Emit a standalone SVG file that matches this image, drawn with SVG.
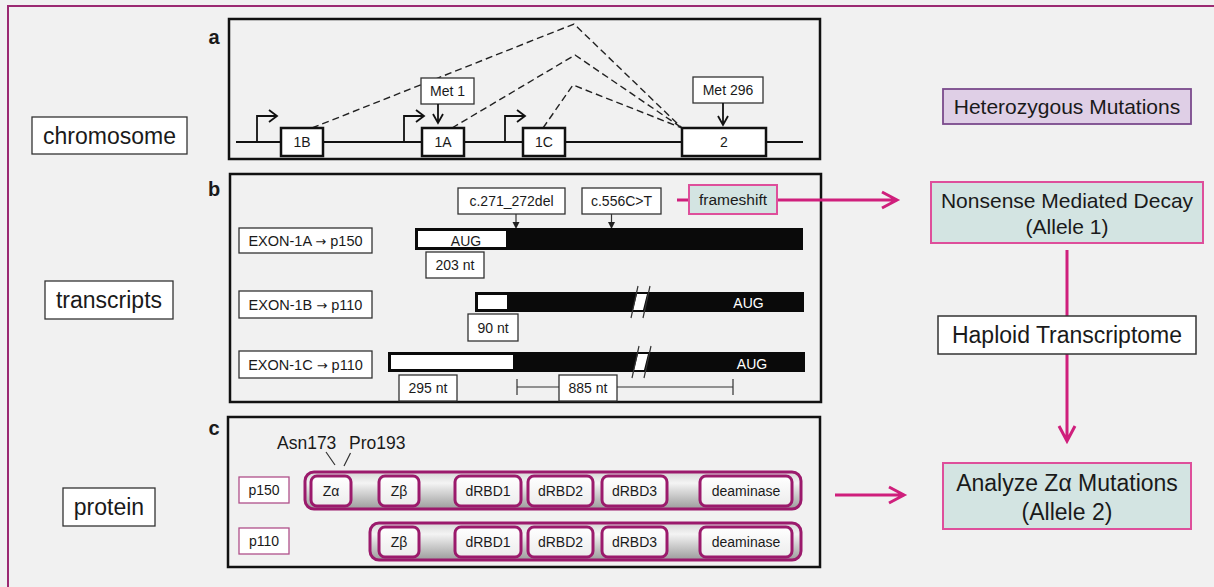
<svg xmlns="http://www.w3.org/2000/svg" width="1214" height="587" viewBox="0 0 1214 587">
<defs>
<style>
text{font-family:"Liberation Sans",Arial,sans-serif;fill:#1a1a1a}
.lbl{font-size:23px;text-anchor:middle}
.pl{font-size:20px;font-weight:bold;text-anchor:middle}
.panel{fill:none;stroke:#111;stroke-width:2.5}
.wbox{fill:#fff;stroke:#333;stroke-width:1.3}
.exon{fill:#fff;stroke:#111;stroke-width:2.5}
.t14{font-size:14px;text-anchor:middle}
.t15{font-size:14.5px;text-anchor:middle}
.arr{font-family:"DejaVu Sans",sans-serif;font-size:13px}
.dash{fill:none;stroke:#222;stroke-width:1.4;stroke-dasharray:7 4}
.blk{fill:none;stroke:#111;stroke-width:1.8}
.thin{fill:none;stroke:#333;stroke-width:1.2}
.pink{fill:none;stroke:#cf1f7c;stroke-width:3}
.bar{fill:url(#g);stroke:#9b1a6c;stroke-width:3}
.dom{fill:url(#gd);stroke:#9b1a6c;stroke-width:3}
.plab{fill:#fff;stroke:#b0508a;stroke-width:1.3}
.teal{fill:#d3e4e2;stroke:#de4f9b;stroke-width:2}
.aug{font-size:14px;text-anchor:middle;fill:#fff}
</style>
<linearGradient id="g" x1="0" y1="0" x2="0" y2="1">
<stop offset="0" stop-color="#d6d6d6"/>
<stop offset="0.3" stop-color="#f4f4f4"/>
<stop offset="1" stop-color="#9c9c9c"/>
</linearGradient>
<linearGradient id="gd" x1="0" y1="0" x2="0" y2="1">
<stop offset="0" stop-color="#ffffff"/>
<stop offset="1" stop-color="#ececec"/>
</linearGradient>
</defs>
<rect x="0" y="0" width="1214" height="587" fill="#f1f1f1"/>
<rect x="8" y="6" width="1230" height="600" fill="none" stroke="#9b2a72" stroke-width="2"/>

<g id="label-chromosome"><rect x="32" y="117" width="155" height="37" class="wbox"/><text x="109.5" y="143.5" class="lbl">chromosome</text></g>
<g id="label-transcripts"><rect x="45" y="281" width="128" height="38" class="wbox"/><text x="109" y="308" class="lbl">transcripts</text></g>
<g id="label-protein"><rect x="63" y="488" width="92" height="38" class="wbox"/><text x="109" y="515" class="lbl">protein</text></g>

<text x="214" y="44" class="pl">a</text>
<text x="214" y="196" class="pl">b</text>
<text x="214" y="435" class="pl">c</text>

<g id="panel-a">
<rect x="229" y="19" width="591" height="140" class="panel"/>
<line x1="236" y1="142" x2="803" y2="142" class="blk"/>
<path d="M257 142V116H277M269 110L277 116L269 122" class="blk"/>
<path d="M404 142V116H424M416 110L424 116L416 122" class="blk"/>
<path d="M505 142V116H525M517 110L525 116L517 122" class="blk"/>
<path d="M312 128L574 24L682 128M452 128L575 55L682 128M543 128L573 85L682 128" class="dash"/>
<g id="exon-1B"><rect x="281" y="128" width="42" height="28" class="exon"/><text x="302" y="147" class="t14">1B</text></g>
<g id="exon-1A"><rect x="422" y="128" width="42" height="28" class="exon"/><text x="443" y="147" class="t14">1A</text></g>
<g id="exon-1C"><rect x="523" y="128" width="42" height="28" class="exon"/><text x="544" y="147" class="t14">1C</text></g>
<g id="exon-2"><rect x="682" y="128" width="84" height="28" class="exon"/><text x="724" y="147" class="t14">2</text></g>
<g id="met1"><rect x="421" y="78" width="53" height="26" class="wbox"/><text x="447.5" y="96" class="t14">Met 1</text>
<path d="M438 104V123M433 114L438 123L443 114" class="blk"/></g>
<g id="met296"><rect x="693" y="77" width="70" height="26" class="wbox"/><text x="728" y="95" class="t14">Met 296</text>
<path d="M723 103V125M718 116L723 125L728 116" class="blk"/></g>
</g>

<g id="panel-b">
<rect x="230" y="174" width="591" height="228" class="panel"/>
<g id="mut-del"><rect x="458" y="188" width="107" height="26" class="wbox"/><text x="511.5" y="206" class="t14">c.271_272del</text>
<path d="M516 214V223" class="thin"/><path d="M512.5 222L516 229L519.5 222Z" fill="#222"/></g>
<g id="mut-556"><rect x="582" y="188" width="79" height="26" class="wbox"/><text x="621.5" y="206" class="t14">c.556C&gt;T</text>
<path d="M611.5 214V223" class="thin"/><path d="M608 222L611.5 229L615 222Z" fill="#222"/></g>

<g id="tx-1A">
<rect x="239" y="228" width="133" height="25" class="wbox"/><text x="305.5" y="246" class="t15">EXON-1A <tspan class="arr">→</tspan> p150</text>
<rect x="415" y="228" width="388" height="22" fill="#0a0a0a"/>
<rect x="418" y="231" width="88" height="16" fill="#fff"/>
<text x="466" y="246" class="t14">AUG</text>
<rect x="426" y="252" width="58" height="26" class="wbox"/><text x="455" y="270" class="t14">203 nt</text>
</g>
<g id="tx-1B">
<rect x="239" y="291" width="133" height="27" class="wbox"/><text x="305.5" y="310" class="t15">EXON-1B <tspan class="arr">→</tspan> p110</text>
<rect x="475" y="292" width="329" height="20" fill="#0a0a0a"/>
<rect x="478" y="295" width="29" height="14" fill="#fff"/>
<polygon points="637,294 647,294 643,310 633,310" fill="#fff"/>
<path d="M638 286L631 318M650 286L643 318" class="thin"/>
<text x="748.5" y="308" class="aug">AUG</text>
<rect x="468" y="314" width="50" height="27" class="wbox"/><text x="493" y="332.5" class="t14">90 nt</text>
</g>
<g id="tx-1C">
<rect x="239" y="351" width="133" height="27" class="wbox"/><text x="305.5" y="370" class="t15">EXON-1C <tspan class="arr">→</tspan> p110</text>
<rect x="388" y="352" width="417" height="20" fill="#0a0a0a"/>
<rect x="391" y="355" width="122" height="14" fill="#fff"/>
<polygon points="638,354 648,354 644,370 634,370" fill="#fff"/>
<path d="M639 346L632 378M651 346L644 378" class="thin"/>
<text x="752" y="369" class="aug">AUG</text>
<rect x="399" y="375" width="58" height="26" class="wbox"/><text x="428" y="393" class="t14">295 nt</text>
<path d="M517 387H733M517 379V395M733 379V395" class="thin"/>
<rect x="559" y="375" width="58" height="26" class="wbox"/><text x="588" y="393" class="t14">885 nt</text>
</g>
</g>

<g id="panel-c">
<rect x="228" y="417" width="592" height="150" class="panel"/>
<text x="277" y="449" style="font-size:17.5px">Asn173</text>
<text x="349" y="449" style="font-size:17.5px">Pro193</text>
<path d="M326 452L335 465M350.5 453L344 466" class="thin"/>
<g id="p150">
<rect x="239" y="477" width="50" height="26" class="plab"/><text x="264" y="495" class="t14">p150</text>
<rect x="305" y="472" width="496" height="37" rx="9" class="bar"/>
<rect x="311" y="476" width="40" height="30" rx="6" class="dom"/><text x="331" y="496" class="t14">Zα</text>
<rect x="379" y="476" width="40" height="30" rx="6" class="dom"/><text x="399" y="496" class="t14">Zβ</text>
<rect x="455" y="476" width="66" height="30" rx="6" class="dom"/><text x="488" y="496" class="t14">dRBD1</text>
<rect x="528" y="476" width="65" height="30" rx="6" class="dom"/><text x="560.5" y="496" class="t14">dRBD2</text>
<rect x="602" y="476" width="65" height="30" rx="6" class="dom"/><text x="634.5" y="496" class="t14">dRBD3</text>
<rect x="700" y="476" width="92" height="30" rx="6" class="dom"/><text x="746" y="496" class="t14">deaminase</text>
</g>
<g id="p110">
<rect x="239" y="528" width="50" height="26" class="plab"/><text x="264" y="546" class="t14">p110</text>
<rect x="370" y="523" width="431" height="37" rx="9" class="bar"/>
<rect x="379" y="527" width="40" height="30" rx="6" class="dom"/><text x="399" y="547" class="t14">Zβ</text>
<rect x="455" y="527" width="66" height="30" rx="6" class="dom"/><text x="488" y="547" class="t14">dRBD1</text>
<rect x="528" y="527" width="65" height="30" rx="6" class="dom"/><text x="560.5" y="547" class="t14">dRBD2</text>
<rect x="602" y="527" width="65" height="30" rx="6" class="dom"/><text x="634.5" y="547" class="t14">dRBD3</text>
<rect x="700" y="527" width="92" height="30" rx="6" class="dom"/><text x="746" y="547" class="t14">deaminase</text>
</g>
</g>

<g id="connectors">
<path d="M677 200H897M882 192L897 200L882 208" class="pink"/>
<path d="M835 495H904M889 487L904 495L889 503" class="pink"/>
<path d="M1067 250V316" class="pink"/>
<path d="M1067 354V441M1059 426L1067 441L1075 426" class="pink"/>
</g>

<g id="frameshift"><rect x="689" y="185" width="88" height="29" class="teal"/><text x="733" y="205" style="font-size:15.5px;text-anchor:middle">frameshift</text></g>

<g id="heterozygous"><rect x="943" y="89" width="248" height="35" fill="#dfcfe6" stroke="#7a4a8c" stroke-width="1.8"/><text x="1067" y="114" style="font-size:21px;text-anchor:middle">Heterozygous Mutations</text></g>
<g id="nmd"><rect x="931" y="182" width="272" height="61" class="teal"/><text x="1067" y="208" style="font-size:21px;text-anchor:middle">Nonsense Mediated Decay</text><text x="1067" y="234" style="font-size:21px;text-anchor:middle">(Allele 1)</text></g>
<g id="haploid"><rect x="938" y="316" width="258" height="38" fill="#fff" stroke="#333" stroke-width="1.5"/><text x="1067" y="343" style="font-size:23px;text-anchor:middle">Haploid Transcriptome</text></g>
<g id="analyze"><rect x="943" y="463" width="248" height="66" class="teal"/><text x="1067" y="491" style="font-size:23px;text-anchor:middle">Analyze Zα Mutations</text><text x="1067" y="520" style="font-size:23px;text-anchor:middle">(Allele 2)</text></g>
</svg>
